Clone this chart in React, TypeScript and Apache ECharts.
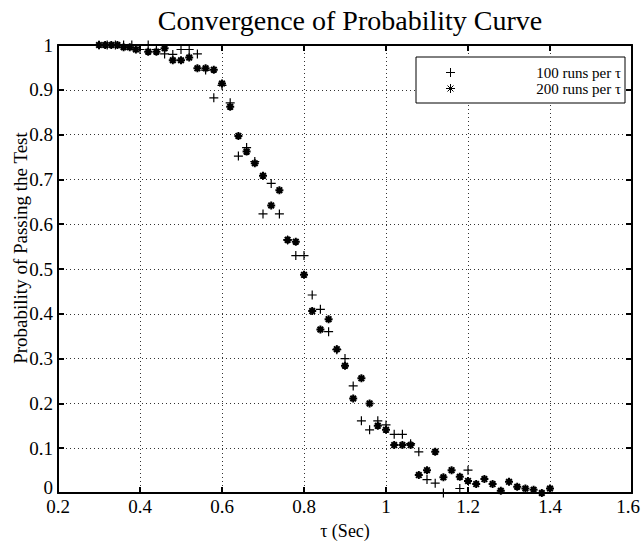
import React, { useEffect, useRef } from "react";
import * as echarts from "echarts";

const tau100 = [0.30, 0.32, 0.34, 0.36, 0.38, 0.40, 0.42, 0.44, 0.46, 0.48, 0.50, 0.52, 0.54, 0.56, 0.58, 0.60, 0.62, 0.64, 0.66, 0.68, 0.70, 0.72, 0.74, 0.76, 0.78, 0.80, 0.82, 0.84, 0.86, 0.88, 0.90, 0.92, 0.94, 0.96, 0.98, 1.00, 1.02, 1.04, 1.06, 1.08, 1.10, 1.12, 1.14, 1.18, 1.20];
const prob100 = [1, 1, 1, 1, 1, 0.99, 1, 0.99, 0.98, 0.979, 0.99, 0.99, 0.98, 0.944, 0.882, 0.91, 0.871, 0.752, 0.771, 0.74, 0.623, 0.691, 0.623, 0.565, 0.53, 0.53, 0.442, 0.41, 0.36, 0.32, 0.30, 0.239, 0.161, 0.141, 0.161, 0.152, 0.131, 0.131, 0.11, 0.092, 0.03, 0.022, 0.0, 0.01, 0.051];

const tau200 = [0.30, 0.315, 0.33, 0.345, 0.36, 0.375, 0.39, 0.42, 0.44, 0.46, 0.48, 0.50, 0.52, 0.54, 0.56, 0.58, 0.60, 0.62, 0.64, 0.66, 0.68, 0.70, 0.72, 0.74, 0.76, 0.78, 0.80, 0.82, 0.84, 0.86, 0.88, 0.90, 0.92, 0.94, 0.96, 0.98, 1.00, 1.02, 1.04, 1.06, 1.08, 1.10, 1.12, 1.14, 1.16, 1.18, 1.20, 1.22, 1.24, 1.26, 1.28, 1.30, 1.32, 1.34, 1.36, 1.38, 1.40];
const prob200 = [1, 1, 1, 1, 0.995, 0.995, 0.99, 0.985, 0.985, 0.993, 0.966, 0.966, 0.972, 0.948, 0.948, 0.945, 0.914, 0.862, 0.797, 0.762, 0.736, 0.708, 0.642, 0.676, 0.565, 0.561, 0.487, 0.406, 0.365, 0.388, 0.321, 0.284, 0.211, 0.256, 0.20, 0.15, 0.141, 0.107, 0.107, 0.107, 0.04, 0.051, 0.092, 0.035, 0.051, 0.036, 0.027, 0.02, 0.031, 0.02, 0.005, 0.025, 0.014, 0.01, 0.007, 0.0, 0.01];

const seriesNames = ["100 runs per τ", "200 runs per τ"];
const titleText = "Convergence of Probability Curve";
const xName = "τ (Sec)";
const yName = "Probability of Passing the Test";

const FONT = "'Liberation Serif', 'Times New Roman', serif";
const PLUS = "path://M5 0 L5 10 M0 5 L10 5";
const STAR = "path://M5 0 L5 10 M0 5 L10 5 M1.5 1.5 L8.5 8.5 M1.5 8.5 L8.5 1.5";

const fmt = (v: number) => String(+v.toFixed(2));

export default function App() {
  const ref = useRef<HTMLDivElement>(null);
  useEffect(() => {
    if (!ref.current) return;
    const chart = echarts.init(ref.current, null, { renderer: "svg" });
    const axisLine = { show: true, onZero: false, lineStyle: { color: "#000", width: 2 } };
    const tick = { show: true, inside: true, length: 6, lineStyle: { color: "#000", width: 2 } };
    const grid = { show: true, lineStyle: { color: "#333", width: 1, type: [1, 3] } };
    const label = { color: "#000", fontFamily: FONT, fontSize: 19 };
    chart.setOption({
      animation: false,
      backgroundColor: "#fff",
      title: {
        text: titleText,
        left: 345,
        top: 1,
        textAlign: "center",
        textStyle: { fontFamily: FONT, fontSize: 28, fontWeight: "normal", color: "#000" },
      },
      grid: { left: 58, right: 10, top: 45, bottom: 49, containLabel: false, outerBoundsMode: "none" },
      xAxis: [
        {
          type: "value", min: 0.2, max: 1.6, interval: 0.2, position: "bottom",
          axisLine, axisTick: tick, splitLine: grid,
          axisLabel: {
            ...label, margin: 4,
            formatter: (v: number) => (Math.abs(v - 1.6) < 1e-6 ? "{r|1.6}" : fmt(v)),
            rich: { r: { ...label, padding: [0, 8, 0, 0] } },
          },
          name: xName, nameLocation: "middle", nameGap: 29,
          nameTextStyle: { ...label, fontSize: 18 },
        },
        {
          type: "value", min: 0.2, max: 1.6, interval: 0.2, position: "top",
          axisLine, axisTick: tick, splitLine: { show: false }, axisLabel: { show: false },
        },
      ],
      yAxis: [
        {
          type: "value", min: 0, max: 1, interval: 0.1, position: "left",
          axisLine, axisTick: tick, splitLine: grid,
          axisLabel: {
            ...label, margin: 5,
            formatter: (v: number) => (v === 0 ? "{z|0}" : fmt(v)),
            rich: { z: { ...label, padding: [0, 0, 12, 0] } },
          },
        },
        {
          type: "value", min: 0, max: 1, interval: 0.1, position: "right",
          axisLine, axisTick: tick, splitLine: { show: false }, axisLabel: { show: false },
        },
      ],
      series: [
        {
          name: seriesNames[0], type: "scatter", xAxisIndex: 0, yAxisIndex: 0, clip: false,
          symbol: PLUS, symbolSize: 9,
          itemStyle: { color: "transparent", borderColor: "#000", borderWidth: 1.2, opacity: 1 },
          data: tau100.map((t, i) => [t, prob100[i]]),
        },
        {
          name: seriesNames[1], type: "scatter", xAxisIndex: 0, yAxisIndex: 0, clip: false,
          symbol: STAR, symbolSize: 8,
          itemStyle: { color: "transparent", borderColor: "#000", borderWidth: 2, opacity: 1 },
          data: tau200.map((t, i) => [t, prob200[i]]),
        },
      ],
      graphic: [
        {
          type: "text", x: 20, y: 248, rotation: Math.PI / 2,
          style: { text: yName, fontFamily: FONT, fontSize: 19, fill: "#000", align: "center", verticalAlign: "middle" },
        },
        {
          type: "rect", shape: { x: 416, y: 57, width: 209, height: 46 },
          style: { fill: "#fff", stroke: "#000", lineWidth: 1 }, z: 10,
        },
        { type: "line", shape: { x1: 446, y1: 72.5, x2: 455, y2: 72.5 }, style: { stroke: "#000", lineWidth: 1 }, z: 11 },
        { type: "line", shape: { x1: 450.5, y1: 68, x2: 450.5, y2: 77 }, style: { stroke: "#000", lineWidth: 1 }, z: 11 },
        { type: "line", shape: { x1: 446, y1: 88.5, x2: 455, y2: 88.5 }, style: { stroke: "#000", lineWidth: 1 }, z: 11 },
        { type: "line", shape: { x1: 450.5, y1: 84, x2: 450.5, y2: 93 }, style: { stroke: "#000", lineWidth: 1 }, z: 11 },
        { type: "line", shape: { x1: 447.5, y1: 85.5, x2: 453.5, y2: 91.5 }, style: { stroke: "#000", lineWidth: 1 }, z: 11 },
        { type: "line", shape: { x1: 447.5, y1: 91.5, x2: 453.5, y2: 85.5 }, style: { stroke: "#000", lineWidth: 1 }, z: 11 },
        {
          type: "text", x: 621, y: 72.5, z: 11,
          style: { text: seriesNames[0], fontFamily: FONT, fontSize: 15, fill: "#000", align: "right", verticalAlign: "middle" },
        },
        {
          type: "text", x: 621, y: 88.5, z: 11,
          style: { text: seriesNames[1], fontFamily: FONT, fontSize: 15, fill: "#000", align: "right", verticalAlign: "middle" },
        },
      ],
    });
    return () => chart.dispose();
  }, []);
  return <div ref={ref} style={{ position: "fixed", left: 0, top: 0, width: 642, height: 542 }} />;
}
